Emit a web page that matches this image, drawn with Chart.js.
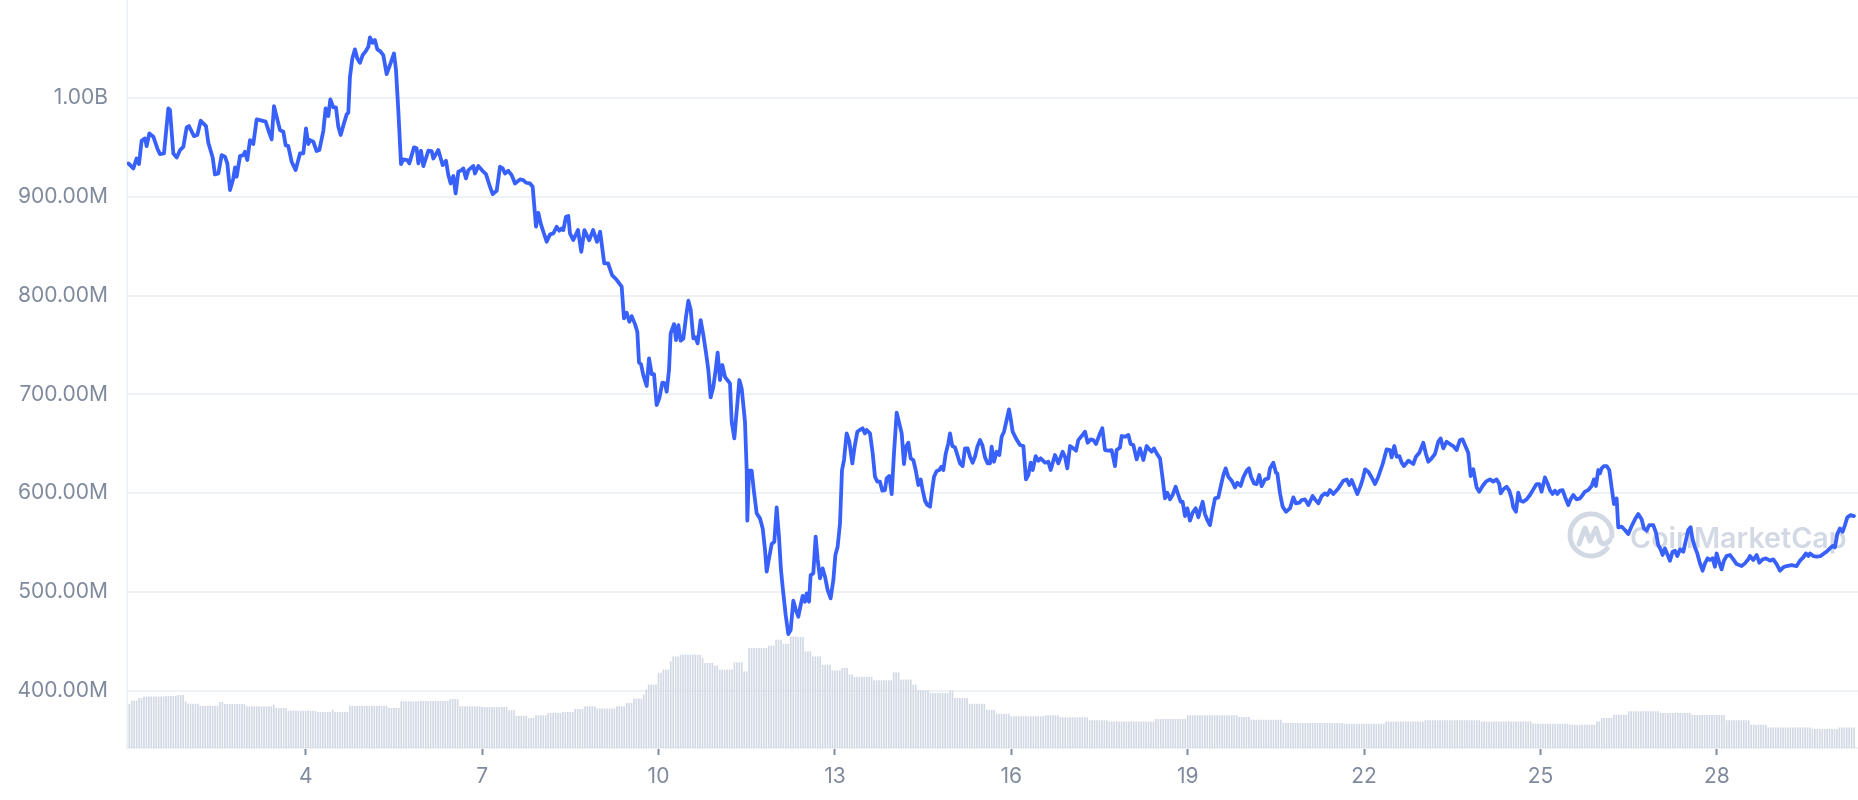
<!DOCTYPE html>
<html>
<head>
<meta charset="utf-8">
<script src="https://cdn.jsdelivr.net/npm/chart.js@4/dist/chart.umd.min.js"></script>
<style>
  html, body { margin: 0; padding: 0; background: #ffffff; }
  #wrap { width: 1858px; height: 800px; }
</style>
</head>
<body>
<div id="wrap"><canvas id="c" width="1858" height="800"></canvas></div>
<script>
// ---- DATA ----
// time of each market-cap sample, in days of the month
const times = [
  0.984,1.069,1.125,1.165,1.210,1.267,1.295,1.341,1.409,1.477,
  1.522,1.590,1.664,1.692,1.749,1.807,1.862,1.919,1.976,2.015,
  2.100,2.157,2.214,2.304,2.344,2.418,2.457,2.514,2.571,2.628,
  2.667,2.713,2.769,2.798,2.826,2.883,2.939,2.967,3.007,3.053,
  3.109,3.166,3.223,3.319,3.365,3.421,3.461,3.506,3.563,3.620,
  3.659,3.704,3.761,3.829,3.903,3.960,4.005,4.045,4.073,4.130,
  4.186,4.232,4.300,4.339,4.385,4.419,4.470,4.515,4.555,4.595,
  4.651,4.697,4.725,4.753,4.793,4.838,4.878,4.923,4.969,5.025,
  5.065,5.093,5.139,5.178,5.218,5.264,5.320,5.377,5.422,5.502,
  5.536,5.575,5.621,5.660,5.728,5.762,5.842,5.887,5.916,5.961,
  6.001,6.086,6.142,6.171,6.256,6.329,6.386,6.426,6.466,6.511,
  6.550,6.596,6.652,6.681,6.726,6.766,6.851,6.879,6.936,7.021,
  7.066,7.134,7.180,7.248,7.305,7.350,7.390,7.446,7.503,7.560,
  7.645,7.701,7.747,7.815,7.860,7.917,7.956,7.996,8.042,8.098,
  8.155,8.212,8.268,8.313,8.353,8.381,8.427,8.466,8.495,
  8.551,8.631,8.687,8.740,8.821,8.888,8.954,9.008,9.077,9.143,9.211,9.291,9.374,
  9.413,9.459,9.504,9.544,9.601,9.640,9.669,9.703,9.742,9.799,
  9.839,9.884,9.924,9.969,10.014,10.066,10.111,10.139,10.179,10.207,
  10.264,10.298,10.338,10.377,10.423,10.468,10.508,10.547,10.593,10.632,
  10.666,10.717,10.763,10.808,10.848,10.887,10.933,10.972,11.006,11.046,
  11.086,11.131,11.171,11.216,11.245,11.290,11.341,11.375,11.415,11.471,
  11.500,11.511,11.539,11.585,11.624,11.670,11.726,11.772,11.812,11.840,
  11.885,11.925,11.970,12.010,12.049,12.083,12.123,12.163,12.208,12.248,
  12.293,12.333,12.378,12.418,12.452,12.492,12.520,12.560,12.588,12.633,
  12.673,12.707,12.747,12.792,12.832,12.877,12.928,12.974,13.008,13.047,
  13.087,13.121,13.155,13.200,13.246,13.297,13.331,13.382,13.438,13.472,
  13.512,13.541,13.597,13.643,13.682,13.722,13.767,13.807,13.852,13.880,
  13.926,13.966,14.005,14.051,14.096,14.136,14.175,14.209,14.249,14.289,
  14.334,14.374,14.419,14.459,14.493,14.533,14.572,14.618,14.646,14.686,
  14.731,14.777,14.811,14.845,14.884,14.929,14.958,14.997,15.043,15.083,
  15.128,15.173,15.213,15.258,15.298,15.343,15.383,15.423,15.468,15.508,
  15.553,15.598,
  15.638,15.666,15.706,15.751,15.797,15.836,15.876,15.921,15.961,15.989,
  16.023,16.080,16.148,16.205,16.250,16.290,16.330,16.364,16.415,16.460,
  16.500,16.574,16.630,16.670,16.743,16.800,16.874,16.913,16.953,16.999,
  17.055,17.101,17.140,17.197,17.254,17.299,17.350,17.396,17.441,17.497,
  17.548,17.594,17.650,17.707,17.764,17.792,17.849,17.877,17.934,17.991,
  18.030,18.076,18.132,18.189,18.246,18.302,18.348,18.387,18.427,18.472,
  18.529,18.574,18.614,18.654,18.699,18.744,18.795,18.841,18.880,18.914,
  18.954,18.994,19.039,19.085,19.136,19.181,19.221,19.255,19.294,19.334,
  19.379,19.425,19.465,19.521,19.561,19.606,19.646,19.691,19.748,19.805,
  19.844,19.901,19.946,20.003,20.043,20.077,20.128,20.173,20.218,20.258,
  20.315,20.371,20.400,20.456,20.502,20.525,20.570,20.615,20.672,20.740,
  20.797,20.842,20.899,20.939,20.995,21.052,21.125,21.165,21.222,21.279,
  21.335,21.375,21.420,21.477,21.562,21.647,21.704,21.749,21.789,21.846,
  21.885,21.931,21.976,22.016,22.072,22.129,22.186,22.242,22.316,22.384,
  22.441,22.469,22.514,22.554,22.600,22.639,22.679,22.753,
  22.780,22.837,22.882,22.939,23.007,23.052,23.092,23.148,23.205,23.262,
  23.302,23.347,23.404,23.460,23.517,23.574,23.602,23.630,23.676,23.715,
  23.772,23.812,23.857,23.914,23.959,24.016,24.072,24.141,24.197,24.254,
  24.299,24.322,24.367,24.424,24.469,24.509,24.537,24.583,24.622,24.662,
  24.707,24.764,24.821,24.878,24.934,24.980,25.019,25.076,25.116,25.161,
  25.206,25.246,25.286,25.331,25.376,25.416,25.473,25.512,25.558,25.614,
  25.671,25.717,25.756,25.813,25.870,25.909,25.943,25.983,26.011,26.040,
  26.079,26.125,26.170,26.210,26.250,26.295,26.323,26.380,26.436,26.493,
  26.550,26.607,26.663,26.720,26.760,26.805,26.851,26.918,26.964,27.003,
  27.043,27.077,27.117,27.156,27.202,27.247,27.287,27.327,27.372,27.429,
  27.474,27.514,27.553,27.587,27.627,27.667,27.712,27.757,27.797,27.842,
  27.882,27.927,27.967,27.995,28.041,28.080,28.120,28.165,28.222,28.279,
  28.336,28.420,28.477,28.534,28.562,28.619,28.676,28.721,28.778,28.834,
  28.903,28.959,29.016,29.073,29.129,29.186,29.271,29.356,29.413,29.469,
  29.515,29.555,29.583,29.640,29.696,29.764,29.821,29.866,29.923,29.968,
  30.008,30.048,30.093,30.138,30.178,30.218,30.274,30.331
];

// market cap at each time, in millions of USD
const marketCapM = [
  933.8,928.7,938.8,933.1,956.7,959.1,951.3,964.1,960.8,948.9,
  943.2,943.9,989.4,987.8,943.9,939.8,947.2,950.6,970.2,971.6,
  961.4,962.5,977.0,971.6,954.7,939.8,922.6,923.6,942.2,940.5,
  933.8,906.8,918.6,929.7,920.3,941.2,942.2,945.6,937.2,957.4,
  953.4,978.3,977.6,976.0,967.5,958.1,991.8,981.0,967.5,965.8,
  952.3,951.3,935.5,927.0,943.9,943.9,969.2,953.4,957.4,955.7,
  946.3,947.3,966.8,989.4,981.7,998.6,990.5,990.5,970.9,962.5,
  974.3,983.4,985.1,1021.5,1040.0,1049.2,1040.0,1035.6,1043.4,1047.8,
  1051.8,1061.3,1055.9,1058.6,1049.2,1047.5,1043.4,1024.2,1031.6,1045.1,
  1028.2,987.8,933.1,937.8,937.2,933.8,950.0,949.0,933.8,946.6,
  931.1,946.6,946.3,938.8,947.3,932.1,936.5,922.0,913.5,921.0,
  903.4,925.4,927.0,928.7,918.6,927.0,931.1,923.6,931.1,925.4,
  923.0,910.2,902.7,906.1,930.4,928.7,923.6,926.3,921.9,913.5,
  917.6,916.9,914.2,913.5,910.2,869.7,883.8,873.0,864.6,854.5,
  861.9,862.9,869.7,865.6,868.0,866.3,879.8,880.5,862.9,
  856.2,866.3,844.3,866.3,856.0,866.3,854.4,864.6,832.6,832.6,820.7,815.7,809.0,
  776.9,782.6,773.5,779.2,771.1,763.4,732.0,730.7,719.5,708.4,
  736.4,720.5,720.5,689.2,695.9,711.8,711.1,702.7,724.6,761.7,
  771.1,754.9,770.1,754.3,756.6,778.6,794.8,786.0,756.6,757.7,
  751.6,775.2,760.0,742.1,724.6,696.9,707.7,724.6,742.1,714.5,
  729.7,717.8,714.5,711.1,672.3,655.4,690.9,714.5,706.0,672.3,
  623.4,572.1,622.7,622.7,601.4,579.5,574.5,564.3,542.4,520.5,
  535.6,548.5,550.8,585.6,555.9,522.2,498.5,476.6,457.4,461.5,
  491.1,482.4,474.9,486.7,495.9,490.1,498.5,490.1,517.1,518.8,
  555.9,532.9,513.7,523.8,515.4,501.9,493.5,512.0,537.3,545.8,
  569.4,623.4,633.5,660.5,652.1,630.1,645.3,662.2,664.5,665.6,
  660.5,663.9,660.5,640.3,616.6,611.6,611.6,602.5,603.1,614.9,
  617.3,599.1,640.3,681.4,670.6,660.5,629.5,647.0,651.0,635.2,
  633.5,623.4,608.2,613.9,603.1,592.3,588.0,586.3,599.8,616.6,
  622.4,623.4,626.7,623.4,639.6,650.4,660.5,647.7,646.3,638.6,
  630.1,627.4,645.3,645.3,636.9,630.8,636.9,647.0,653.7,648.7,
  636.2,630.1,
  630.1,647.0,631.8,641.9,638.6,657.1,662.2,674.0,684.8,675.7,
  662.2,655.4,648.7,647.7,613.9,618.3,630.8,623.4,637.5,632.8,
  635.2,630.8,631.8,623.4,638.6,630.1,641.9,636.9,625.1,647.7,
  645.3,643.0,653.7,657.8,662.2,651.0,654.4,653.7,649.7,658.8,
  665.6,643.6,643.0,643.6,627.4,643.6,646.3,657.8,657.1,658.8,
  649.7,648.7,634.2,645.3,633.5,647.7,644.3,641.9,645.3,640.2,
  635.2,614.9,594.7,600.4,593.7,598.1,606.5,598.1,591.3,591.3,
  576.8,584.6,572.1,580.2,584.6,575.5,584.6,591.3,578.8,572.8,
  567.7,582.9,594.7,595.7,606.5,618.3,625.1,616.6,612.6,605.8,
  610.6,607.2,615.9,622.7,625.1,616.6,609.9,609.2,618.3,607.2,
  613.9,614.9,625.1,630.8,620.7,620.0,599.8,586.3,581.2,584.6,
  595.7,589.6,590.3,593.0,593.7,587.9,597.1,593.7,589.6,597.1,
  599.8,598.1,603.1,599.1,604.8,612.6,613.9,608.2,613.3,604.8,
  599.1,605.8,613.9,624.1,621.7,615.9,609.2,616.6,629.5,644.3,
  643.6,636.2,647.7,636.9,637.5,630.8,627.4,632.8,
  631.8,629.5,636.9,640.9,651.0,639.6,631.8,635.2,639.6,652.1,
  655.4,645.3,652.1,649.7,647.7,643.6,648.7,653.7,654.4,648.7,
  640.9,617.3,624.1,605.8,601.5,607.2,611.6,613.9,611.6,613.9,
  609.2,599.8,603.8,606.5,602.5,594.7,585.6,581.2,600.4,592.3,
  591.3,593.7,598.1,603.8,609.2,609.2,601.5,615.9,610.6,603.1,
  599.1,602.5,599.1,602.5,603.1,596.4,588.0,593.7,598.1,593.7,
  594.7,598.1,601.5,603.1,607.2,613.9,607.2,623.4,620.0,625.1,
  627.4,627.4,623.4,605.8,589.0,594.7,565.4,566.0,562.7,558.6,
  566.7,573.5,578.8,573.5,564.3,562.0,567.7,567.7,560.0,547.5,
  543.1,537.4,544.1,538.4,531.6,540.7,541.7,536.3,543.1,540.7,
  552.5,562.7,565.4,553.2,545.1,539.0,528.9,521.5,528.9,534.0,
  532.3,534.0,525.5,539.0,529.6,522.8,531.6,536.3,537.4,533.0,
  528.2,526.2,528.9,533.0,536.3,532.3,537.4,529.6,533.0,534.0,
  531.6,533.0,528.2,521.5,524.9,526.2,527.2,526.2,531.6,535.0,
  539.0,536.3,539.0,536.3,535.7,536.3,539.0,540.7,544.1,546.5,
  545.1,558.6,564.3,560.9,567.7,575.5,577.8,576.8
];

// hourly trading-volume bars, stored as runs: number of hourly bars, and their level (millions USD)
const volumeStartDay = 1.0;
const volumeStepDays = 1 / 24;
const volumeRunHours = [
  1,3,2,9,5,3,1,5,8,2, 9,11,1,5,12,6,1,6,16,5, 8,12,4,9,11,3,5,3,5,6,
  5,4,5,8,4,3,4,1,1,4, 2,3,1,3,9,1,4,2,6,4, 2,8,3,3,3,3,3,3,4,4,
  4,3,2,8,8,3,5,2,5,8, 2,6,7,4,6,14,6,12,8,19, 13,21,5,13,25,17,16,23,21,15,
  11,2,5,6,13,13,14,10,7,18, 11,7
];
const volumeRunLevelsM = [
  17.6,18.9,19.9,20.5,20.7,21.1,18.5,17.6,16.8,18.3,
  17.5,16.6,17.2,15.9,14.8,14.3,15.2,14.3,16.8,15.9,
  18.6,18.7,19.5,16.6,16.3,15.0,12.8,11.9,13.0,13.9,
  14.3,15.5,16.6,15.7,16.6,17.9,19.7,21.3,23.3,25.3,
  30.0,31.3,34.6,36.6,37.3,36.0,34.0,33.0,31.3,34.2,
  30.6,40.0,40.9,43.3,41.7,44.6,44.4,38.6,36.6,33.3,
  31.0,32.0,29.3,28.4,27.0,30.2,27.3,25.3,23.0,21.9,
  22.9,19.9,17.6,15.2,13.6,12.6,13.0,12.2,11.0,10.5,
  11.5,13.0,12.3,11.2,9.9,9.6,10.5,11.0,10.5,9.6,
  9.2,10.5,11.9,13.2,14.6,13.9,13.1,11.0,9.2,8.1,
  7.5,8.1
];

const xTickDays = [4, 7, 10, 13, 16, 19, 22, 25, 28];
const yTicksM = [400, 500, 600, 700, 800, 900, 1000];
const watermarkText = 'CoinMarketCap';

// ---- build tables for Chart.js ----
const lineData = times.map((t, i) => ({ x: t, y: marketCapM[i] }));
const volumeData = [];
let hourIndex = 0;
volumeRunHours.forEach((count, r) => {
  for (let j = 0; j < count; j++) {
    volumeData.push({ x: volumeStartDay + hourIndex * volumeStepDays, y: volumeRunLevelsM[r] });
    hourIndex++;
  }
});

const fmtCap = v => v >= 1000 ? (v / 1000).toFixed(2) + 'B' : v.toFixed(2) + 'M';
const AXIS_TEXT = '#808A9D';
const GRID = '#EFF2F5';

const watermarkPlugin = {
  id: 'watermark',
  beforeDatasetsDraw(chart) {
    const { ctx, chartArea } = chart;
    const color = '#D3D9E4';
    ctx.save();
    const cx = chartArea.right - 267, cy = chartArea.bottom - 213, r = 21;
    ctx.strokeStyle = color;
    ctx.lineWidth = 5;
    ctx.lineCap = 'round';
    ctx.lineJoin = 'round';
    ctx.beginPath();
    ctx.arc(cx, cy, r, 0.22 * Math.PI, 2.02 * Math.PI);
    ctx.stroke();
    ctx.beginPath();
    ctx.moveTo(cx - 12, cy + 9);
    ctx.lineTo(cx - 6, cy - 7);
    ctx.lineTo(cx - 1, cy + 6);
    ctx.lineTo(cx + 5, cy - 7);
    ctx.lineTo(cx + 9, cy + 6);
    ctx.quadraticCurveTo(cx + 13, cy + 12, cx + 19, cy + 5);
    ctx.stroke();
    ctx.fillStyle = color;
    let size = 31;
    ctx.font = '600 ' + size + 'px Inter, "Noto Sans", sans-serif';
    const w = ctx.measureText(watermarkText).width;
    size = size * 217 / w;
    ctx.font = '600 ' + size.toFixed(1) + 'px Inter, "Noto Sans", sans-serif';
    ctx.textAlign = 'left';
    ctx.textBaseline = 'alphabetic';
    ctx.fillText(watermarkText, chartArea.right - 228, chartArea.bottom - 200);
    ctx.restore();
  }
};

new Chart(document.getElementById('c'), {
  type: 'line',
  data: {
    datasets: [
      {
        type: 'line',
        data: lineData,
        borderColor: '#3861FB',
        borderWidth: 3.8,
        pointRadius: 0,
        tension: 0,
        borderJoinStyle: 'round',
        borderCapStyle: 'round',
        fill: false,
        xAxisID: 'x',
        yAxisID: 'y',
        order: 0
      },
      {
        type: 'bar',
        data: volumeData,
        backgroundColor: '#D2D9E4',
        borderWidth: 0,
        barThickness: 1,
        xAxisID: 'x',
        yAxisID: 'yVol',
        order: 1
      }
    ]
  },
  options: {
    responsive: false,
    devicePixelRatio: 1,
    animation: false,
    layout: { padding: 0 },
    plugins: { legend: { display: false }, tooltip: { enabled: false } },
    scales: {
      x: {
        type: 'linear',
        position: 'bottom',
        offset: false,
        bounds: 'data',
        min: 0.961,
        max: 30.40,
        afterBuildTicks: s => { s.ticks = xTickDays.map(v => ({ value: v })); },
        afterFit: s => { s.height = 52; s.paddingLeft = 0; s.paddingRight = 0; },
        grid: { display: true, offset: false, drawOnChartArea: false, drawTicks: true, tickLength: 7, tickColor: AXIS_TEXT, tickWidth: 2 },
        border: { display: true, color: GRID, width: 2 },
        ticks: {
          color: AXIS_TEXT,
          font: { family: 'Inter', size: 21 },
          padding: 9,
          maxRotation: 0,
          autoSkip: false,
          callback: v => String(v)
        }
      },
      y: {
        type: 'linear',
        position: 'left',
        min: 342.0,
        max: 1099.2,
        afterBuildTicks: s => { s.ticks = yTicksM.map(v => ({ value: v })); },
        afterFit: s => { s.width = 127; s.paddingTop = 0; s.paddingBottom = 0; },
        grid: { color: GRID, lineWidth: 2, drawTicks: false },
        border: { display: true, color: GRID, width: 2 },
        ticks: {
          color: AXIS_TEXT,
          font: { family: 'Inter', size: 21 },
          padding: 19,
          autoSkip: false,
          callback: v => fmtCap(v)
        }
      },
      yVol: {
        type: 'linear',
        display: false,
        min: 0,
        max: 300
      }
    }
  },
  plugins: [watermarkPlugin]
});
</script>
</body>
</html>
